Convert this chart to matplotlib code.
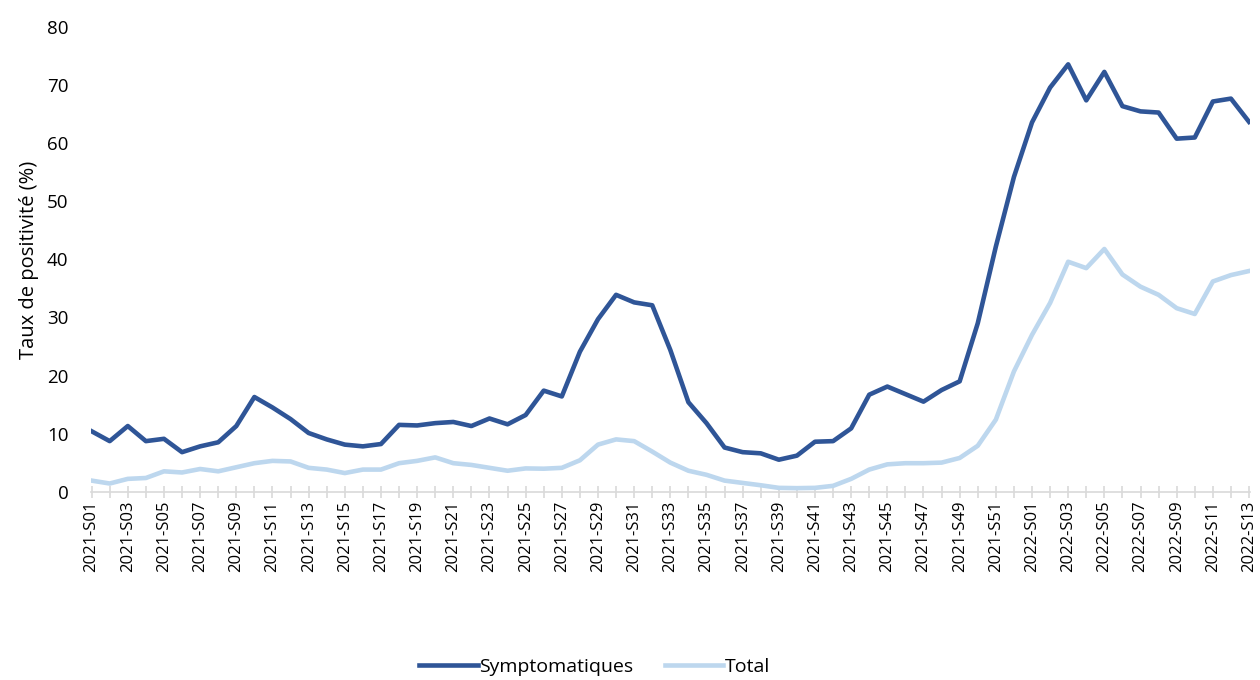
#!/usr/bin/env python3
"""Taux de positivite hebdomadaire, symptomatiques vs total."""

import matplotlib

matplotlib.use("Agg")
import matplotlib.pyplot as plt

weeks = [f"2021-S{i:02d}" for i in range(1, 53)] + [f"2022-S{i:02d}" for i in range(1, 14)]

symptomatiques = [
    10.4, 8.7, 11.3, 8.7, 9.1, 6.8, 7.8, 8.5, 11.3, 16.3,
    14.5, 12.5, 10.1, 9.0, 8.1, 7.8, 8.2, 11.5, 11.4, 11.8,
    12.0, 11.3, 12.6, 11.6, 13.2, 17.4, 16.4, 24.1, 29.7, 33.9,
    32.6, 32.1, 24.4, 15.4, 11.8, 7.6, 6.8, 6.6, 5.5, 6.2,
    8.6, 8.7, 10.9, 16.7, 18.1, 16.8, 15.5, 17.5, 19.0, 29.0,
    42.2, 54.2, 63.6, 69.6, 73.6, 67.4, 72.3, 66.4, 65.5, 65.3,
    60.8, 61.0, 67.2, 67.7, 63.7,
]

total = [
    1.9, 1.4, 2.2, 2.35, 3.5, 3.3, 3.9, 3.5, 4.2, 4.9,
    5.3, 5.2, 4.1, 3.8, 3.2, 3.8, 3.8, 4.9, 5.3, 5.9,
    4.9, 4.6, 4.1, 3.6, 4.0, 3.95, 4.1, 5.4, 8.1, 9.0,
    8.7, 6.9, 5.0, 3.6, 2.9, 1.9, 1.5, 1.1, 0.65, 0.6,
    0.65, 1.0, 2.2, 3.8, 4.7, 4.9, 4.9, 5.0, 5.8, 7.9,
    12.4, 20.7, 27.0, 32.5, 39.6, 38.5, 41.8, 37.4, 35.3, 33.9,
    31.6, 30.6, 36.2, 37.3, 38.0,
]

DARK = "#2F5597"
LIGHT = "#BDD7EE"


def main() -> int:
    plt.rcParams["font.family"] = ["Open Sans", "DejaVu Sans"]
    fig = plt.figure(figsize=(12.6, 6.8), dpi=100)
    ax = fig.add_axes([0.072, 0.277, 0.92, 0.683])

    x = list(range(len(weeks)))
    ax.plot(x, symptomatiques, color=DARK, lw=3.3, label="Symptomatiques", solid_joinstyle="round")
    ax.plot(x, total, color=LIGHT, lw=3.3, label="Total", solid_joinstyle="round")

    ax.set_xlim(-0.05, len(weeks) - 1 + 0.05)
    ax.set_ylim(0, 80)
    ax.set_yticks(range(0, 81, 10))
    ax.set_xticks(x)
    ax.set_xticklabels([w if i % 2 == 0 else "" for i, w in enumerate(weeks)], rotation=90, fontsize=12)
    ax.tick_params(axis="x", direction="inout", length=9, width=1.2, color="#D9D9D9", pad=2)
    ax.tick_params(axis="y", length=0, labelsize=13.5, pad=16)

    for side in ("top", "right", "left"):
        ax.spines[side].set_visible(False)
    ax.spines["bottom"].set_color("#D9D9D9")
    ax.spines["bottom"].set_linewidth(1.2)

    ax.set_ylabel("Taux de positivité (%)", fontsize=14.5, labelpad=6)

    fig.legend(
        loc="lower center",
        bbox_to_anchor=(0.472, -0.02),
        ncol=2,
        frameon=False,
        fontsize=14,
        handlelength=3.0,
        handletextpad=0.1,
        columnspacing=1.6,
    )

    fig.savefig("out.png", dpi=100)
    plt.close(fig)
    return 0


if __name__ == "__main__":
    raise SystemExit(main())
